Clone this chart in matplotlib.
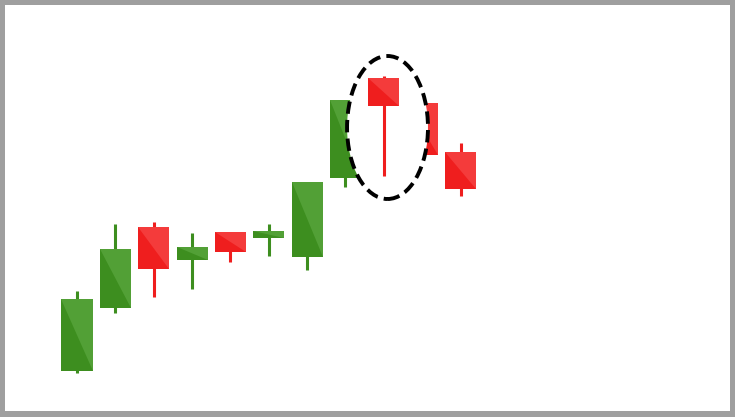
import matplotlib
matplotlib.use("Agg")
import matplotlib.pyplot as plt
from matplotlib.patches import Polygon, Rectangle, Ellipse

# candle data (arbitrary price units)
opens = [4.6, 10.9, 19.0, 15.7, 18.5, 17.9, 16.0, 23.9, 33.9, 31.4, 26.5]
closes = [11.8, 16.8, 14.8, 17.0, 16.5, 18.6, 23.5, 31.7, 31.1, 26.2, 22.8]
highs = [12.6, 19.3, 19.5, 18.4, 18.5, 19.3, 23.5, 31.7, 34.1, 31.4, 27.4]
lows = [4.4, 10.4, 12.0, 12.8, 15.5, 16.1, 14.7, 23.0, 24.1, 26.2, 22.1]
highlight = 8  # the hammer inside the dashed ring

GREEN_DARK, GREEN_LIGHT = "#3d8e1f", "#52a036"
RED_DARK, RED_LIGHT = "#ef1e1e", "#f43b3b"
BODY_W = 0.81

fig = plt.figure(figsize=(7.35, 4.17), dpi=100)
fig.patch.set_facecolor("#9f9f9f")
ax = fig.add_axes([5 / 735, 6 / 417, 725 / 735, 406 / 417])
ax.set_facecolor("white")
ax.set_xticks([])
ax.set_yticks([])
for sp in ax.spines.values():
    sp.set_visible(False)

# map candle index / price onto the frame
step, x0 = 38.35, 77
ax.set_xlim((5 - x0) / step, (730 - x0) / step)
ax.set_ylim(0.6, 41.2)


def draw_candle(i, z):
    o, c, h, l = opens[i], closes[i], highs[i], lows[i]
    up = c >= o
    dark, light = (GREEN_DARK, GREEN_LIGHT) if up else (RED_DARK, RED_LIGHT)
    ax.plot([i, i], [l, h], color=dark, lw=2.2, solid_capstyle="butt", zorder=z)
    left, right = i - BODY_W / 2, i + BODY_W / 2
    bottom, top = min(o, c), max(o, c)
    ax.add_patch(Rectangle((left, bottom), BODY_W, top - bottom,
                           facecolor=dark, edgecolor="none", zorder=z + 0.1))
    ax.add_patch(Polygon([(left, top), (right, top), (right, bottom)],
                         closed=True, facecolor=light, edgecolor="none",
                         zorder=z + 0.2))


for i in range(len(opens)):
    if i != highlight:
        draw_candle(i, 2)

# ring around the hammer
ring_c = (8.097, 28.95)
ring_w, ring_h = 2.11, 14.3
ax.add_patch(Ellipse(ring_c, ring_w, ring_h, facecolor="white",
                     edgecolor="none", zorder=3))
draw_candle(highlight, 4)
ax.add_patch(Ellipse(ring_c, ring_w, ring_h, facecolor="none",
                     edgecolor="black", lw=2.8, linestyle=(0, (3.2, 1.6)),
                     zorder=5))

fig.savefig("out.png", dpi=100, facecolor=fig.get_facecolor())
